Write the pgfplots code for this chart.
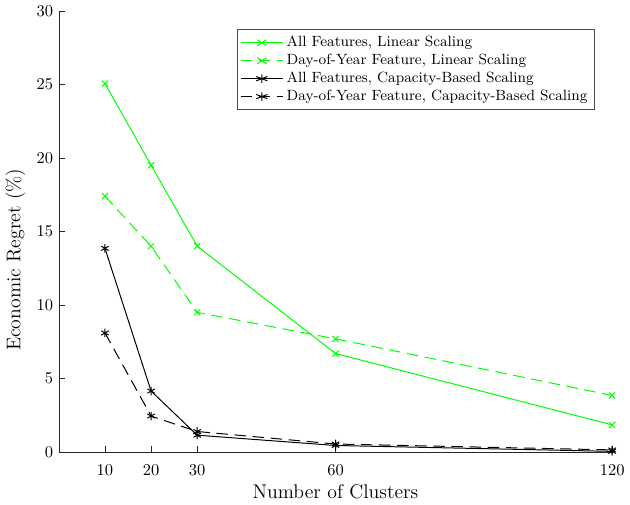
\documentclass[border=0pt]{standalone}
\usepackage{pgfplots}
\pgfplotsset{compat=1.18}
\definecolor{mgreen}{RGB}{0,255,0}
\begin{document}
\begin{tikzpicture}
\begin{axis}[
  width=336pt,height=268pt,scale only axis,
  xmin=0,xmax=120,ymin=0,ymax=30,
  xtick={10,20,30,60,120},ytick={0,5,...,30},
  axis x line*=bottom,axis y line*=left,
  axis line style={-,black!85},
  tick align=inside,tick style={black!85},
  major tick length=4pt,
  xlabel={Number of Clusters},ylabel={Economic Regret (\%)},
  label style={font=\large},
  ticklabel style={font=\normalsize},
  xticklabel style={yshift=-4pt},
  xlabel style={yshift=1pt},
  every axis y label/.append style={at={(ticklabel cs:0.436)}},
  legend style={at={(0.968,0.958)},anchor=north east,draw=black!70,
    font=\fontsize{9}{10.5}\selectfont,row sep=-1pt,inner sep=2pt},
  legend cell align=left,
  legend image post style={xscale=1.5},
  every axis plot/.append style={line width=0.6pt},
]
\addplot[mgreen,mark=x,mark size=2.6pt] coordinates {(10,25.05) (20,19.5) (30,14.0) (60,6.7) (120,1.85)};
\addplot[mgreen,mark=x,mark size=2.6pt,mark options={solid},dash pattern=on 7pt off 4pt] coordinates {(10,17.4) (20,14.0) (30,9.5) (60,7.7) (120,3.85)};
\addplot[black,mark=asterisk,mark size=2.6pt,mark options={solid}] coordinates {(10,13.85) (20,4.15) (30,1.15) (60,0.45) (120,0.05)};
\addplot[black,mark=asterisk,mark size=2.6pt,mark options={solid},dash pattern=on 7pt off 4pt] coordinates {(10,8.1) (20,2.45) (30,1.4) (60,0.55) (120,0.15)};
\legend{{All Features, Linear Scaling},{Day-of-Year Feature, Linear Scaling},{All Features, Capacity-Based Scaling},{Day-of-Year Feature, Capacity-Based Scaling}}
\end{axis}
\end{tikzpicture}
\end{document}
